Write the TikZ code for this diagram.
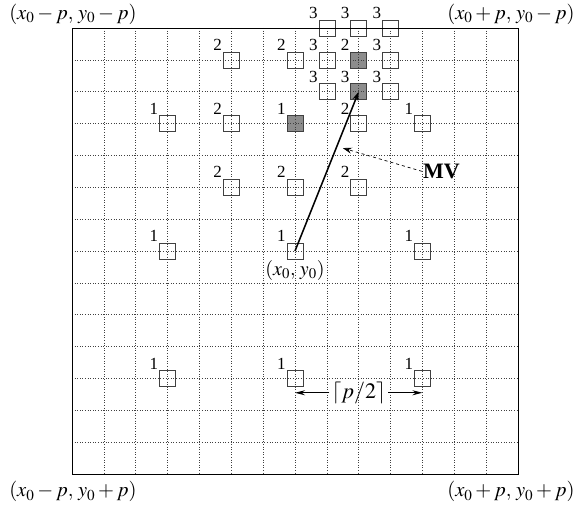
\documentclass[tikz,border=0pt]{standalone}
\usepackage{mathptmx}
\usepackage[no-math]{fontspec}
\setmainfont{Liberation Serif}
\usetikzlibrary{arrows.meta}
\tikzset{
  sq/.style={draw=black!75, line width=0.7pt, minimum size=16pt, inner sep=0pt, fill=none,
    label={[lbl]north west:#1}},
  gsq/.style={sq=#1, fill=black!45},
  lbl/.style={inner sep=0.8pt, font=\fontsize{17}{17}\selectfont},
  gridline/.style={dotted, line width=0.6pt, black!75},
  corner/.style={font=\fontsize{20.5}{22}\selectfont, inner sep=0pt},
  mvarrow/.style={line width=1.5pt, -{Stealth[length=9pt,width=6pt]}},
  dasharrow/.style={dashed, line width=0.7pt, -{Stealth[length=9pt,width=6pt]}},
  dimarrow/.style={line width=0.9pt, -{Stealth[length=10pt,width=5pt]}}
}
\begin{document}
\begin{tikzpicture}[x=31.857pt, y=-31.857pt]
\useasboundingbox (-72pt,28pt) rectangle (510pt,-477pt);
% squares
\node[sq=1] (a1) at (3,3) {};
\node[gsq=1] (a2) at (7,3) {};
\node[sq=1] (a3) at (11,3) {};
\node[sq=1] (a4) at (3,7) {};
\node[sq=1] (a5) at (7,7) {};
\node[sq=1] (a6) at (11,7) {};
\node[sq=1] (a7) at (3,11) {};
\node[sq=1] (a8) at (7,11) {};
\node[sq=1] (a9) at (11,11) {};
\node[sq=2] (b1) at (5,1) {};
\node[sq=2] (b2) at (7,1) {};
\node[gsq=2] (b3) at (9,1) {};
\node[sq=2] (b4) at (5,3) {};
\node[sq=2] (b6) at (9,3) {};
\node[sq=2] (b7) at (5,5) {};
\node[sq=2] (b8) at (7,5) {};
\node[sq=2] (b9) at (9,5) {};
\node[sq=3] (c1) at (8,0) {};
\node[sq=3] (c2) at (9,0) {};
\node[sq=3] (c3) at (10,0) {};
\node[sq=3] (c4) at (8,1) {};
\node[sq=3] (c6) at (10,1) {};
\node[sq=3] (c7) at (8,2) {};
\node[gsq=3] (c8) at (9,2) {};
\node[sq=3] (c9) at (10,2) {};
% grid
\foreach \i in {1,...,13} {
  \draw[gridline] (\i,0) -- (\i,14);
  \draw[gridline] (0,\i) -- (14,\i);
}
\draw[line width=0.9pt] (0,0) rectangle (14,14);
% corner labels
\node[corner] (tl) at (0.03,-0.42) {$(x_0-p,\,y_0-p)$};
\node[corner] (tr) at (13.78,-0.42) {$(x_0+p,\,y_0-p)$};
\node[corner] (bl) at (0.03,14.56) {$(x_0-p,\,y_0+p)$};
\node[corner] (br) at (13.78,14.56) {$(x_0+p,\,y_0+p)$};
% center label
\node[corner, font=\fontsize{20}{22}\selectfont] (ctr) at (7,7.6) {$(x_0,\,y_0)$};
% MV
\draw[mvarrow] (a5.center) -- (c8.center);
\node[inner sep=1pt, font=\fontsize{22}{24}\selectfont\bfseries] (mv) at (11.6,4.5) {MV};
\coordinate (mvt) at (8.5,3.77);
\draw[dasharrow] (mv.west) -- (mvt);
% p/2
\node[inner sep=2pt, font=\fontsize{22}{24}\selectfont] (ph) at (9,11.45) {$\lceil p/2\rceil$};
\coordinate (pl) at (7,11.45);
\coordinate (pr) at (11,11.45);
\draw[dimarrow] (ph.west) -- (pl);
\draw[dimarrow] (ph.east) -- (pr);
\end{tikzpicture}
\end{document}
